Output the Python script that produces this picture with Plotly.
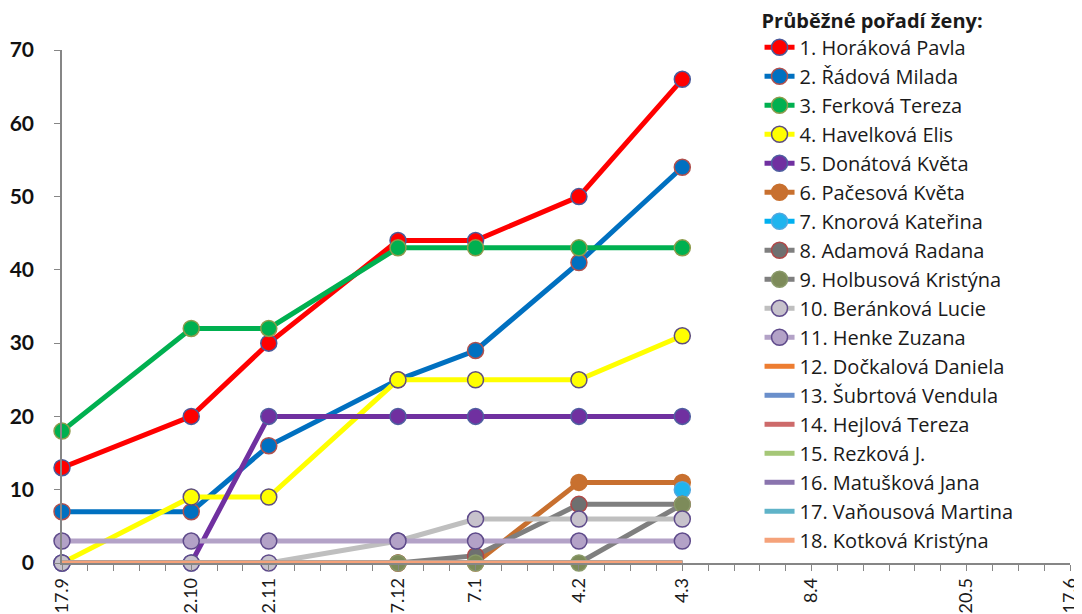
import plotly.graph_objects as go

# Tick positions (category slots on the axis) and labels
label_pos = [0, 5, 8, 13, 16, 20, 24, 29, 35, 39]
labels = ['17.9', '2.10', '2.11', '7.12', '7.1', '4.2', '4.3', '8.4', '20.5', '17.6']
race_pos = label_pos[:7]

names = [
    '1. Horáková Pavla', '2. Řádová Milada', '3. Ferková Tereza', '4. Havelková Elis',
    '5. Donátová Květa', '6. Pačesová Květa', '7. Knorová Kateřina', '8. Adamová Radana',
    '9. Holbusová Kristýna', '10. Beránková Lucie', '11. Henke Zuzana',
    '12. Dočkalová Daniela', '13. Šubrtová Vendula', '14. Hejlová Tereza',
    '15. Rezková J.', '16. Matušková Jana', '17. Vaňousová Martina', '18. Kotková Kristýna',
]

horakova = [13, 20, 30, 44, 44, 50, 66]
radova = [7, 7, 16, 25, 29, 41, 54]
ferkova = [18, 32, 32, 43, 43, 43, 43]
havelkova = [0, 9, 9, 25, 25, 25, 31]
donatova = [0, 0, 20, 20, 20, 20, 20]
pacesova = [None, None, None, 0, 0, 11, 11]
knorova = [None, None, None, None, None, None, 10]
adamova = [None, None, None, 0, 1, 8, 8]
holbusova = [None, None, None, 0, 0, 0, 8]
berankova = [0, 0, 0, 3, 6, 6, 6]
henke = [3, 3, 3, 3, 3, 3, 3]
dockalova = [0, 0, 0, 0, 0, 0, 0]
subrtova = [0, 0, 0, 0, 0, 0, 0]
hejlova = [0, 0, 0, 0, 0, 0, 0]
rezkova = [0, 0, 0, 0, 0, 0, 0]
matuskova = [0, 0, 0, 0, 0, 0, 0]
vanousova = [0, 0, 0, 0, 0, 0, 0]
kotkova = [0, 0, 0, 0, 0, 0, 0]

series = [horakova, radova, ferkova, havelkova, donatova, pacesova, knorova, adamova,
          holbusova, berankova, henke, dockalova, subrtova, hejlova, rezkova,
          matuskova, vanousova, kotkova]

# (line colour, marker fill, marker edge) ; None marker => line only
styles = [
    ('#FF0000', '#FF0000', '#4A5A9A'),
    ('#0070C0', '#0070C0', '#B0504D'),
    ('#00B050', '#00B050', '#8E9B4C'),
    ('#FFFF00', '#FFFF00', '#5E4E7E'),
    ('#7030A0', '#7030A0', '#4F5FA0'),
    ('#C8702F', '#C8702F', '#C8702F'),
    ('#00B0F0', '#1FB4EE', '#50A8E0'),
    ('#7F7F7F', '#6E7070', '#B04848'),
    ('#7F7F7F', '#7D8B5A', '#8A9A6A'),
    ('#BFBFBF', '#C7C2CC', '#5F4B8B'),
    ('#B3A2C7', '#B3A2C7', '#5F4B8B'),
    ('#ED7D31', None, None),
    ('#6A8FCB', None, None),
    ('#CD6A6A', None, None),
    ('#A5C777', None, None),
    ('#8A74AE', None, None),
    ('#5FB3C8', None, None),
    ('#F5A27A', None, None),
]

fig = go.Figure()
for i, (name, vals, st) in enumerate(zip(names, series, styles)):
    line_c, fill_c, edge_c = st
    kw = dict(
        x=race_pos, y=vals, name=name,
        line=dict(color=line_c, width=5), cliponaxis=False, connectgaps=False,
    )
    if fill_c:
        kw['mode'] = 'lines+markers'
        kw['marker'] = dict(size=16, color=fill_c, line=dict(color=edge_c, width=1.5))
    else:
        kw['mode'] = 'lines'
    fig.add_trace(go.Scatter(**kw))

# page body has an 8px margin: figure placed at (8, 8)
fig.update_layout(
    width=1073, height=605,
    margin=dict(l=54, r=11, t=42, b=50, autoexpand=False),
    paper_bgcolor='white', plot_bgcolor='white',
    font=dict(family='Lato, Calibri, sans-serif', color='#1a1a1a'),
    showlegend=True,
    legend=dict(
        x=0.692, y=1.094, xanchor='left', yanchor='top',
        bgcolor='rgba(0,0,0,0)', maxheight=640,
        font=dict(size=20, color='#1a1a1a', family='Open Sans, sans-serif'),
        title=dict(text='<b>Průběžné pořadí ženy:</b>',
                   font=dict(size=20, family='Open Sans, sans-serif'), side='top'),
        traceorder='normal',
    ),
    xaxis=dict(
        range=[0, 39], showgrid=False, zeroline=False,
        showline=True, linecolor='#868686', linewidth=1.5,
        tickmode='array', tickvals=label_pos, ticktext=labels,
        ticks='outside', ticklen=6, tickcolor='#868686',
        tickangle=-90, tickfont=dict(size=18, color='#1a1a1a'),
        minor=dict(dtick=1, tick0=0, ticks='outside', ticklen=6, tickcolor='#868686'),
    ),
    yaxis=dict(
        range=[0, 70], dtick=10, showgrid=False, zeroline=False,
        showline=True, linecolor='#868686', linewidth=1.5,
        ticks='outside', ticklen=6, tickcolor='#868686', ticklabelstandoff=16,
        tickfont=dict(size=21, color='#111111', family='Lato, sans-serif', weight='bold'),
    ),
)

fig.write_html('out.html')
